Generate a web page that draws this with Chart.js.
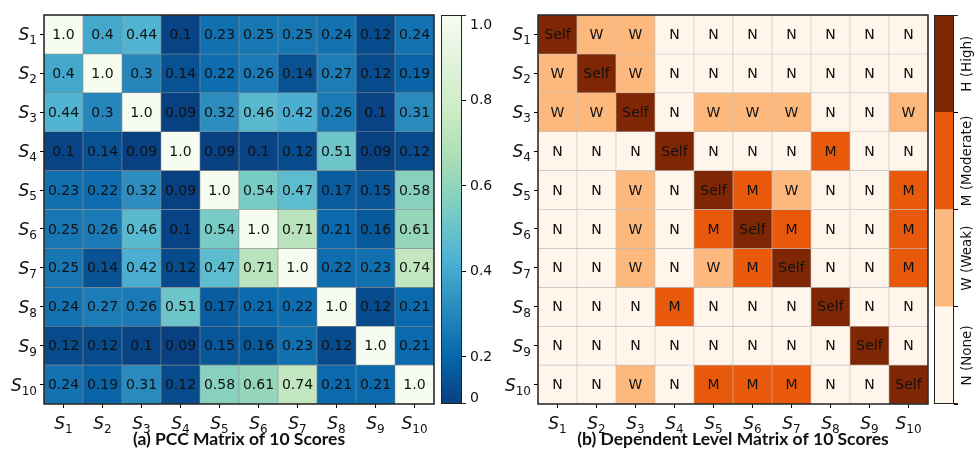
<!DOCTYPE html>
<html>
<head>
<meta charset="utf-8">
<script src="https://cdn.jsdelivr.net/npm/chart.js@4"></script>
<style>
  body { margin: 0; background: #fff; }
  #wrap { position: relative; width: 977px; height: 451px; }
  canvas { position: absolute; top: 0; }
</style>
</head>
<body>
<div id="wrap">
  <canvas id="pccChart" width="440" height="451" style="left:0px"></canvas>
  <canvas id="pccBar" width="64" height="451" style="left:436px"></canvas>
  <canvas id="levelChart" width="440" height="451" style="left:490px"></canvas>
  <canvas id="levelBar" width="47" height="451" style="left:930px"></canvas>
</div>
<script>
// tick labels for both matrices: S with a subscript index
var scoreLabels = ['S1', 'S2', 'S3', 'S4', 'S5', 'S6', 'S7', 'S8', 'S9', 'S10'];

// (a) Pearson correlation, row by row
var pcc = [
  [1.0, 0.4, 0.44, 0.1, 0.23, 0.25, 0.25, 0.24, 0.12, 0.24],
  [0.4, 1.0, 0.3, 0.14, 0.22, 0.26, 0.14, 0.27, 0.12, 0.19],
  [0.44, 0.3, 1.0, 0.09, 0.32, 0.46, 0.42, 0.26, 0.1, 0.31],
  [0.1, 0.14, 0.09, 1.0, 0.09, 0.1, 0.12, 0.51, 0.09, 0.12],
  [0.23, 0.22, 0.32, 0.09, 1.0, 0.54, 0.47, 0.17, 0.15, 0.58],
  [0.25, 0.26, 0.46, 0.1, 0.54, 1.0, 0.71, 0.21, 0.16, 0.61],
  [0.25, 0.14, 0.42, 0.12, 0.47, 0.71, 1.0, 0.22, 0.23, 0.74],
  [0.24, 0.27, 0.26, 0.51, 0.17, 0.21, 0.22, 1.0, 0.12, 0.21],
  [0.12, 0.12, 0.1, 0.09, 0.15, 0.16, 0.23, 0.12, 1.0, 0.21],
  [0.24, 0.19, 0.31, 0.12, 0.58, 0.61, 0.74, 0.21, 0.21, 1.0]
];

// (b) dependent level, row by row
var levels = [
  ['Self', 'W', 'W', 'N', 'N', 'N', 'N', 'N', 'N', 'N'],
  ['W', 'Self', 'W', 'N', 'N', 'N', 'N', 'N', 'N', 'N'],
  ['W', 'W', 'Self', 'N', 'W', 'W', 'W', 'N', 'N', 'W'],
  ['N', 'N', 'N', 'Self', 'N', 'N', 'N', 'M', 'N', 'N'],
  ['N', 'N', 'W', 'N', 'Self', 'M', 'W', 'N', 'N', 'M'],
  ['N', 'N', 'W', 'N', 'M', 'Self', 'M', 'N', 'N', 'M'],
  ['N', 'N', 'W', 'N', 'W', 'M', 'Self', 'N', 'N', 'M'],
  ['N', 'N', 'N', 'M', 'N', 'N', 'N', 'Self', 'N', 'N'],
  ['N', 'N', 'N', 'N', 'N', 'N', 'N', 'N', 'Self', 'N'],
  ['N', 'N', 'W', 'N', 'M', 'M', 'M', 'N', 'N', 'Self']
];

var levelKeys = ['N', 'W', 'M', 'H'];
var levelNames = ['N (None)', 'W (Weak)', 'M (Moderate)', 'H (High)'];
var levelColors = { N: '#fff5eb', W: '#fdb97d', M: '#e8590c', H: '#7f2704', Self: '#7f2704' };

var cbarTicks = [0.2, 0.4, 0.6, 0.8];
var pccMin = 0.09, pccMax = 1.0;

var gnbu = ['#f7fcf0', '#e0f3db', '#ccebc5', '#a8ddb5', '#7bccc4', '#4eb3d3', '#2b8cbe', '#0868ac', '#084081'];

var FONT = 'DejaVu Sans';

function hexRgb(h) {
  return [parseInt(h.slice(1, 3), 16), parseInt(h.slice(3, 5), 16), parseInt(h.slice(5, 7), 16)];
}

// reversed GnBu: low = dark blue, high = near white
function gnbuColor(v) {
  var t = (v - pccMin) / (pccMax - pccMin);
  t = Math.max(0, Math.min(1, t));
  var p = (1 - t) * (gnbu.length - 1);
  var i = Math.floor(p);
  if (i >= gnbu.length - 1) return gnbu[gnbu.length - 1];
  var f = p - i;
  var a = hexRgb(gnbu[i]), b = hexRgb(gnbu[i + 1]);
  return 'rgb(' + a.map(function (x, k) { return Math.round(x + (b[k] - x) * f); }).join(',') + ')';
}

function fmt(v) { return v === 1 ? '1.0' : String(v); }

// draws "S" in italic plus its index as a subscript; align is 'center' or 'right'
function drawSub(ctx, label, x, y, align) {
  var main = label.charAt(0), sub = label.slice(1);
  var fMain = 'italic 17px "' + FONT + '"', fSub = '12px "' + FONT + '"';
  ctx.font = fMain;
  var wMain = ctx.measureText(main).width;
  ctx.font = fSub;
  var wSub = ctx.measureText(sub).width;
  var w = wMain + wSub;
  var x0 = align === 'right' ? x - w : x - w / 2;
  ctx.textAlign = 'left';
  ctx.textBaseline = 'alphabetic';
  ctx.font = fMain;
  ctx.fillText(main, x0, y + 6);
  ctx.font = fSub;
  ctx.fillText(sub, x0 + wMain, y + 10);
}

// cell text, frame, tick labels and title for the two matrices
var decor = {
  id: 'decor',
  afterDatasetsDraw: function (chart, args, opts) {
    var ctx = chart.ctx;
    ctx.save();
    ctx.fillStyle = '#111';
    ctx.font = '14px "' + FONT + '"';
    ctx.textAlign = 'center';
    ctx.textBaseline = 'middle';
    chart.data.datasets.forEach(function (ds, i) {
      chart.getDatasetMeta(i).data.forEach(function (bar, j) {
        ctx.fillText(ds.cellText[j], bar.x, (bar.y + bar.base) / 2 + 1);
      });
    });
    ctx.restore();
  },
  afterDraw: function (chart, args, opts) {
    var ctx = chart.ctx, a = chart.chartArea;
    var xs = chart.scales.x, ys = chart.scales.y;
    ctx.save();
    ctx.strokeStyle = '#222';
    ctx.lineWidth = 1.5;
    ctx.strokeRect(a.left, a.top, a.right - a.left, a.bottom - a.top);
    ctx.fillStyle = '#111';
    scoreLabels.forEach(function (l, i) {
      drawSub(ctx, l, xs.getPixelForTick(i), a.bottom + 19, 'center');
      drawSub(ctx, l, a.left - 7, ys.getPixelForValue(i + 1), 'right');
    });
    ctx.font = 'bold 17.5px Lato';
    ctx.textAlign = 'center';
    ctx.textBaseline = 'middle';
    ctx.fillText(opts.title, (a.left + a.right) / 2, 439);
    ctx.restore();
  }
};

function heatConfig(colors, texts, gridColor, padLeft, padRight, title) {
  var datasets = colors.map(function (rowColors, r) {
    return {
      data: scoreLabels.map(function () { return [r + 0.5, r + 1.5]; }),
      backgroundColor: rowColors,
      borderColor: gridColor,
      borderWidth: 0.6,
      borderSkipped: false,
      grouped: false,
      barPercentage: 1,
      categoryPercentage: 1,
      cellText: texts[r]
    };
  });
  return {
    type: 'bar',
    data: { labels: scoreLabels, datasets: datasets },
    options: {
      responsive: false,
      devicePixelRatio: 1,
      animation: false,
      layout: { padding: { left: padLeft, right: padRight, top: 15, bottom: 17 } },
      plugins: { legend: { display: false }, tooltip: { enabled: false }, decor: { title: title } },
      scales: {
        x: {
          type: 'category',
          offset: true,
          grid: { offset: false, drawOnChartArea: false, tickLength: 4, color: '#000' },
          border: { display: false },
          ticks: { display: false, autoSkip: false },
          afterFit: function (s) { s.height = 30; }
        },
        y: {
          type: 'linear',
          reverse: true,
          min: 0.5,
          max: 10.5,
          afterBuildTicks: function (s) {
            s.ticks = scoreLabels.map(function (l, i) { return { value: i + 1 }; });
          },
          grid: { drawOnChartArea: false, tickLength: 4, color: '#000' },
          border: { display: false },
          ticks: { display: false },
          afterFit: function (s) { s.width = 44; }
        }
      }
    },
    plugins: [decor]
  };
}

new Chart(document.getElementById('pccChart'), heatConfig(
  pcc.map(function (row) { return row.map(gnbuColor); }),
  pcc.map(function (row) { return row.map(fmt); }),
  '#8a8a8a', 0, 6, '(a) PCC Matrix of 10 Scores'));

new Chart(document.getElementById('levelChart'), heatConfig(
  levels.map(function (row) { return row.map(function (l) { return levelColors[l]; }); }),
  levels,
  '#bdbdbd', 4, 2, '(b) Dependent Level Matrix of 10 Scores'));

// colorbar outline and end ticks
var cbarFrame = {
  id: 'cbarFrame',
  afterDraw: function (chart, args, opts) {
    var ctx = chart.ctx, a = chart.chartArea;
    ctx.save();
    ctx.strokeStyle = '#222';
    ctx.lineWidth = 1;
    ctx.strokeRect(a.left + 0.5, a.top + 0.5, a.right - a.left - 1, a.bottom - a.top - 1);
    ctx.beginPath();
    [a.top + 0.5, a.bottom - 0.5].forEach(function (y) {
      ctx.moveTo(a.right, y); ctx.lineTo(a.right + 4, y);
    });
    ctx.stroke();
    if (opts.names) {
      var seg = (a.bottom - a.top) / opts.names.length;
      ctx.fillStyle = '#111';
      ctx.font = '13.5px "' + FONT + '"';
      ctx.textAlign = 'center';
      ctx.textBaseline = 'middle';
      opts.names.forEach(function (n, k) {
        ctx.save();
        ctx.translate(a.right + 13, a.bottom - seg * (k + 0.5));
        ctx.rotate(-Math.PI / 2);
        ctx.fillText(n, 0, 0);
        ctx.restore();
      });
    }
    ctx.restore();
  }
};

new Chart(document.getElementById('pccBar'), {
  type: 'bar',
  data: {
    labels: [''],
    datasets: [{
      data: [[pccMin, pccMax]],
      backgroundColor: function (c) {
        var a = c.chart.chartArea;
        if (!a) return gnbu[4];
        var g = c.chart.ctx.createLinearGradient(0, a.bottom, 0, a.top);
        gnbu.slice().reverse().forEach(function (col, k) { g.addColorStop(k / (gnbu.length - 1), col); });
        return g;
      },
      borderWidth: 0,
      barPercentage: 1,
      categoryPercentage: 1
    }]
  },
  options: {
    responsive: false,
    devicePixelRatio: 1,
    animation: false,
    layout: { padding: { left: 5, top: 15, right: 0, bottom: 47 } },
    plugins: { legend: { display: false }, tooltip: { enabled: false }, cbarFrame: {} },
    scales: {
      x: { display: false },
      y: {
        position: 'right',
        min: pccMin,
        max: pccMax,
        afterBuildTicks: function (s) {
          // end labels sit a little inside the bar, as in the figure
          var t = [{ value: pccMin + 0.014 }];
          cbarTicks.forEach(function (v) { t.push({ value: v }); });
          t.push({ value: pccMax - 0.024 });
          s.ticks = t;
        },
        grid: {
          drawOnChartArea: false, tickLength: 4,
          color: function (c) { return (c.index === 0 || c.index === 5) ? 'rgba(0,0,0,0)' : '#000'; }
        },
        border: { display: false },
        ticks: {
          color: '#111', font: { family: FONT, size: 14 }, padding: 4,
          callback: function (v, i) { return i === 0 ? '0' : (i === 5 ? '1.0' : v.toFixed(1)); }
        },
        afterFit: function (s) { s.width = 38; }
      }
    }
  },
  plugins: [cbarFrame]
});

new Chart(document.getElementById('levelBar'), {
  type: 'bar',
  data: {
    labels: [''],
    datasets: levelKeys.map(function (k, i) {
      return {
        data: [[i, i + 1]],
        backgroundColor: levelColors[k],
        borderWidth: 0,
        grouped: false,
        barPercentage: 1,
        categoryPercentage: 1
      };
    })
  },
  options: {
    responsive: false,
    devicePixelRatio: 1,
    animation: false,
    layout: { padding: { left: 4, top: 15, right: 0, bottom: 47 } },
    plugins: { legend: { display: false }, tooltip: { enabled: false }, cbarFrame: { names: levelNames } },
    scales: {
      x: { display: false },
      y: {
        position: 'right',
        min: 0,
        max: 4,
        ticks: { stepSize: 1, callback: function () { return ''; } },
        grid: { drawOnChartArea: false, tickLength: 4, color: '#000' },
        border: { display: false },
        afterFit: function (s) { s.width = 23; }
      }
    }
  },
  plugins: [cbarFrame]
});
</script>
</body>
</html>
